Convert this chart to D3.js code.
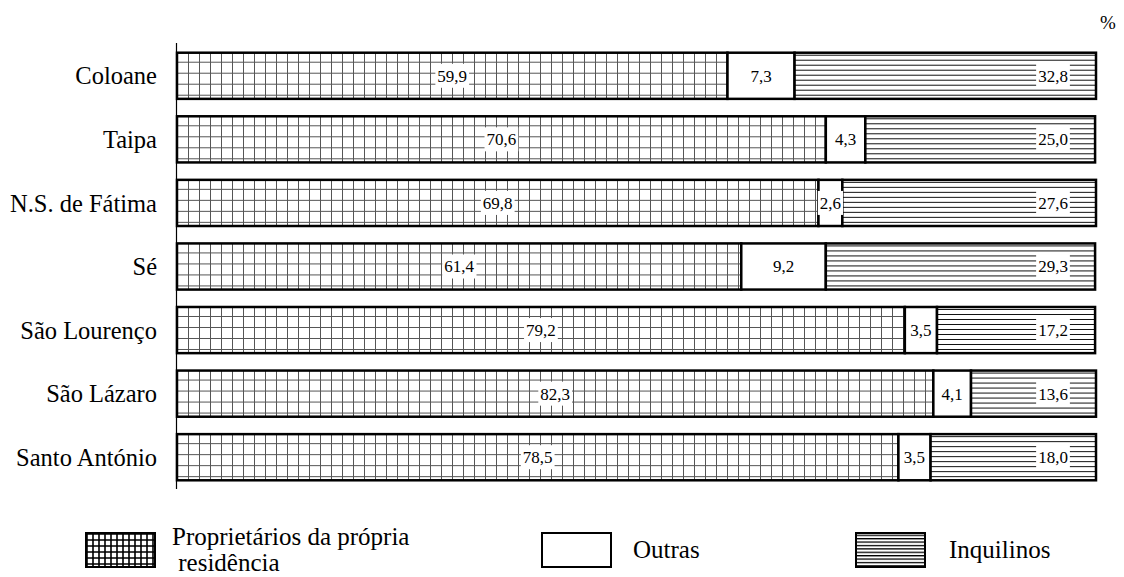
<!DOCTYPE html>
<html>
<head>
<meta charset="utf-8">
<script src="https://cdn.jsdelivr.net/npm/d3@7"></script>
<style>
  body { margin: 0; background: #fff; }
  text { font-family: "Liberation Serif", "Times New Roman", serif; fill: #000; }
</style>
</head>
<body>
<div id="chart"></div>
<script>
const categories = ['Coloane', 'Taipa', 'N.S. de Fátima', 'Sé', 'São Lourenço', 'São Lázaro', 'Santo António'];
const proprietarios = [59.9, 70.6, 69.8, 61.4, 79.2, 82.3, 78.5];
const outras = [7.3, 4.3, 2.6, 9.2, 3.5, 4.1, 3.5];
const inquilinos = [32.8, 25.0, 27.6, 29.3, 17.2, 13.6, 18.0];
const seriesNames = ['Proprietários da própria residência', 'Outras', 'Inquilinos'];

const width = 1124, height = 577;

const svg = d3.select('#chart').append('svg')
    .attr('width', width)
    .attr('height', height);

const defs = svg.append('defs');

const grid = defs.append('pattern')
    .attr('id', 'grid')
    .attr('patternUnits', 'userSpaceOnUse')
    .attr('width', 11).attr('height', 11)
    .attr('x', 177).attr('y', 53);
grid.append('rect').attr('width', 11).attr('height', 11).attr('fill', '#fff');
grid.append('path').attr('d', 'M0,0.5H11M0.5,0V11').attr('stroke', '#555').attr('stroke-width', 1);

const gridSmall = defs.append('pattern')
    .attr('id', 'gridSmall')
    .attr('patternUnits', 'userSpaceOnUse')
    .attr('width', 6).attr('height', 6)
    .attr('x', 86).attr('y', 533);
gridSmall.append('rect').attr('width', 6).attr('height', 6).attr('fill', '#fff');
gridSmall.append('path').attr('d', 'M0,1H6M1,0V6').attr('stroke', '#000').attr('stroke-width', 1.6);

const hlines = defs.append('pattern')
    .attr('id', 'hlines')
    .attr('patternUnits', 'userSpaceOnUse')
    .attr('width', 10).attr('height', 5);
hlines.append('rect').attr('width', 10).attr('height', 5).attr('fill', '#fff');
hlines.append('path').attr('d', 'M0,2.5H10').attr('stroke', '#111').attr('stroke-width', 1);

const hlinesSmall = defs.append('pattern')
    .attr('id', 'hlinesSmall')
    .attr('patternUnits', 'userSpaceOnUse')
    .attr('width', 10).attr('height', 3.4);
hlinesSmall.append('rect').attr('width', 10).attr('height', 3.4).attr('fill', '#fff');
hlinesSmall.append('path').attr('d', 'M0,1.5H10').attr('stroke', '#000').attr('stroke-width', 1.3);

const fills = ['url(#grid)', '#fff', 'url(#hlines)'];

const x = d3.scaleLinear().domain([0, 100]).range([177, 1096]);
const y = d3.scaleBand().domain(categories).range([44, 489])
    .paddingInner(0.274).paddingOuter(0.137);

const rows = categories.map((c, i) => {
  const vals = [proprietarios[i], outras[i], inquilinos[i]];
  let acc = 0;
  return {cat: c, segs: vals.map((v, k) => { const s = {k, v, x0: acc, x1: acc + v}; acc += v; return s; })};
});

// axis line
svg.append('line')
    .attr('x1', 176.5).attr('x2', 176.5)
    .attr('y1', 43).attr('y2', 489)
    .attr('stroke', '#000').attr('stroke-width', 1.2);

const row = svg.selectAll('g.row')
  .data(rows).enter().append('g')
    .attr('class', 'row')
    .attr('transform', (d) => 'translate(0,' + y(d.cat) + ')');

row.selectAll('rect.seg')
  .data((d) => d.segs).enter().append('rect')
    .attr('class', 'seg')
    .attr('x', (d) => x(d.x0))
    .attr('width', (d) => x(d.x1) - x(d.x0))
    .attr('y', 0)
    .attr('height', y.bandwidth())
    .attr('fill', (d) => fills[d.k])
    .attr('stroke', '#000')
    .attr('stroke-width', 2.5);

// value labels with white background
row.each(function(d) {
  const g = d3.select(this);
  d.segs.forEach((s) => {
    const cx = s.k === 2 ? x(100) - 43 : (x(s.x0) + x(s.x1)) / 2;
    const t = g.append('text')
        .attr('x', cx)
        .attr('y', y.bandwidth() / 2)
        .attr('dy', '0.35em')
        .attr('text-anchor', 'middle')
        .style('font-size', '17px')
        .text(d3.format('.1f')(s.v).replace('.', ','));
    const b = t.node().getBBox();
    g.insert('rect', () => t.node())
        .attr('x', b.x - 2)
        .attr('y', y.bandwidth() / 2 - 12)
        .attr('width', b.width + 4)
        .attr('height', 24)
        .attr('fill', '#fff');
  });
});

// category labels
svg.selectAll('text.cat')
  .data(categories).enter().append('text')
    .attr('class', 'cat')
    .attr('x', 157)
    .attr('y', (d) => y(d) + y.bandwidth() / 2)
    .attr('dy', '0.35em')
    .attr('text-anchor', 'end')
    .style('font-size', '24.5px')
    .text((d) => d);

svg.append('text')
    .attr('x', 1108).attr('y', 29)
    .attr('text-anchor', 'middle')
    .style('font-size', '19px')
    .text('%');

// legend
const legend = [
  {x: 86, fill: 'url(#gridSmall)', tx: 172, lines: ['Proprietários da própria', ' residência']},
  {x: 542, fill: '#fff', tx: 633, lines: [seriesNames[1]]},
  {x: 856, fill: 'url(#hlinesSmall)', tx: 949, lines: [seriesNames[2]]}
];

const lg = svg.selectAll('g.legend')
  .data(legend).enter().append('g')
    .attr('class', 'legend');

lg.append('rect')
    .attr('x', (d) => d.x)
    .attr('y', 533)
    .attr('width', 69)
    .attr('height', 34)
    .attr('fill', (d) => d.fill)
    .attr('stroke', '#000')
    .attr('stroke-width', 2);

lg.each(function(d) {
  const t = d3.select(this).append('text')
      .attr('x', d.tx)
      .style('font-size', '25px')
      .style('white-space', 'pre');
  if (d.lines.length === 1) {
    t.attr('y', 558).text(d.lines[0]);
  } else {
    d.lines.forEach((l, i) => {
      t.append('tspan').attr('x', d.tx).attr('y', 545 + i * 26).text(l);
    });
  }
});
</script>
</body>
</html>
